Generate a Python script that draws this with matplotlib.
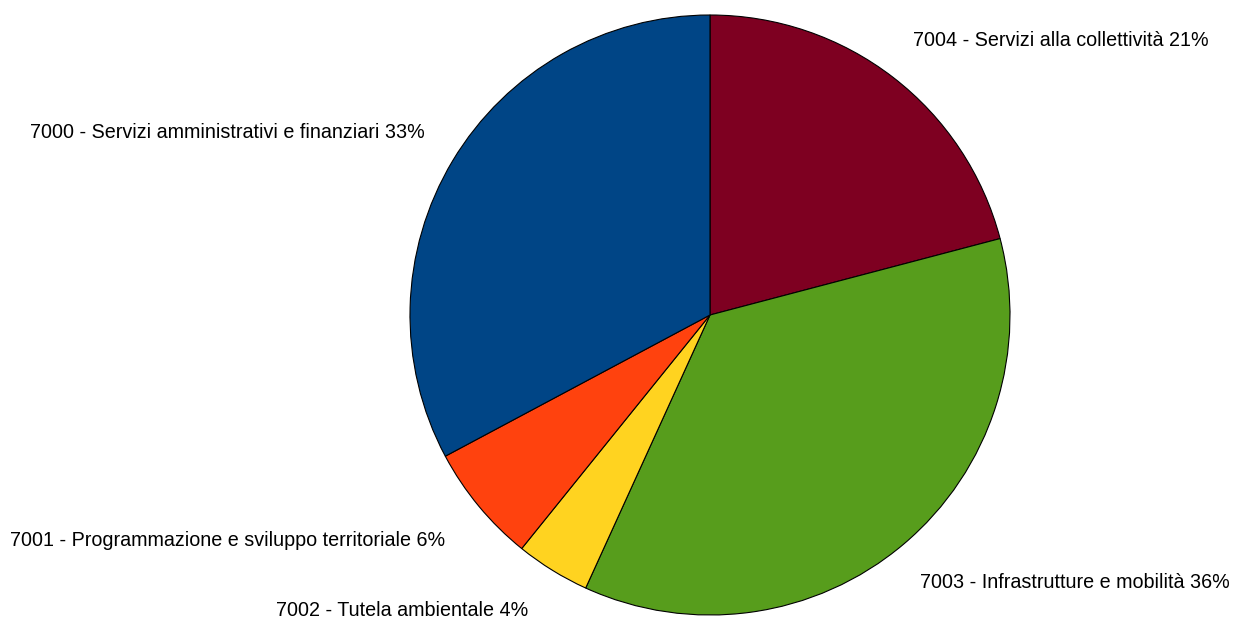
import matplotlib.pyplot as plt

plt.rcParams['font.family'] = ['Liberation Sans', 'DejaVu Sans']

# slices, clockwise from the top
labels = ["7004 - Servizi alla collettività 21%",
          "7003 - Infrastrutture e mobilità 36%",
          "7002 - Tutela ambientale 4%",
          "7001 - Programmazione e sviluppo territoriale 6%",
          "7000 - Servizi amministrativi e finanziari 33%"]
values = [20.9, 35.9, 4.0, 6.4, 32.8]
colors = ["#7E0021", "#579D1C", "#FFD320", "#FF420E", "#004586"]

# label anchors (left edge, pixel row from top)
label_pos = [(913, 41), (920, 582), (276, 610), (10, 540), (30, 133)]

W, H = 1242, 618
fig = plt.figure(figsize=(W / 100, H / 100), dpi=100)
ax = fig.add_axes([0, 0, 1, 1])

ax.pie(values, colors=colors, startangle=90, counterclock=False,
       center=(710, H - 315), radius=300,
       wedgeprops=dict(edgecolor="black", linewidth=0.8))

for lab, (x, y) in zip(labels, label_pos):
    ax.text(x, H - y, lab, ha='left', va='center', fontsize=14.2, color="#000000")

ax.set_xlim(0, W)
ax.set_ylim(0, H)
ax.set_aspect('equal')
ax.axis('off')

fig.savefig("out.png", dpi=100, facecolor="white")
